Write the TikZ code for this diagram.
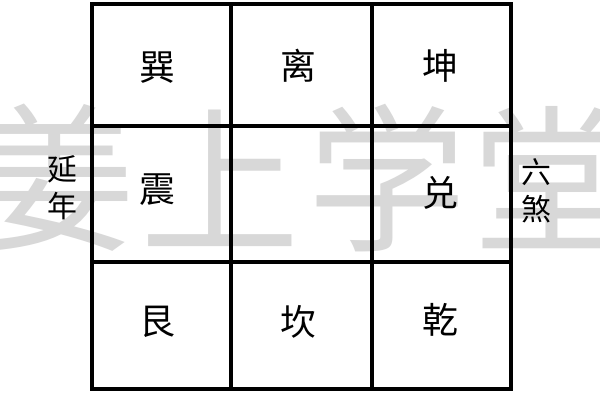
\documentclass[tikz,border=0pt]{standalone}
\usepackage{fontspec}
\newfontfamily\cjk{Noto Sans CJK SC}
\definecolor{wm}{RGB}{216,216,216}
\begin{document}
\begin{tikzpicture}[x=1bp,y=-1bp,
  cell/.style={draw=black,line width=4.5bp,inner sep=0pt,rectangle},
  gua/.style={font=\cjk\fontsize{36}{36}\selectfont,inner sep=0pt},
  side/.style={font=\cjk\fontsize{30}{37}\selectfont,inner sep=0pt,align=center},
  wmark/.style={font=\cjk\fontsize{160}{160}\selectfont,text=wm,inner sep=0pt}]
\useasboundingbox[fill=white] (0,0) rectangle (600,400);
% watermark
\node[wmark] (w1) at (55,178) {姜};
\node[wmark] (w2) at (220,178) {上};
\node[wmark] (w3) at (387,178) {学};
\node[wmark] (w4) at (552,178) {堂};
% grid cells
\node[cell,minimum width=139bp,minimum height=122bp] (c11) at (161.5,65) {};
\node[cell,minimum width=141bp,minimum height=122bp] (c12) at (301.5,65) {};
\node[cell,minimum width=139bp,minimum height=122bp] (c13) at (441.5,65) {};
\node[cell,minimum width=139bp,minimum height=136bp] (c21) at (161.5,194) {};
\node[cell,minimum width=141bp,minimum height=136bp] (c22) at (301.5,194) {};
\node[cell,minimum width=139bp,minimum height=136bp] (c23) at (441.5,194) {};
\node[cell,minimum width=139bp,minimum height=127bp] (c31) at (161.5,325.5) {};
\node[cell,minimum width=141bp,minimum height=127bp] (c32) at (301.5,325.5) {};
\node[cell,minimum width=139bp,minimum height=127bp] (c33) at (441.5,325.5) {};
% trigram names
\node[gua] (xun) at (157,68) {巽};
\node[gua] (li) at (298,66) {离};
\node[gua] (kun) at (440,66) {坤};
\node[gua] (zhen) at (157,190) {震};
\node[gua] (dui) at (440,193) {兑};
\node[gua] (gen) at (157,322) {艮};
\node[gua] (kan) at (298,322) {坎};
\node[gua] (qian) at (440,320) {乾};
% side labels
\node[side] (yan) at (62,188) {延\\年};
\node[side] (liu) at (536,191) {六\\煞};
\end{tikzpicture}
\end{document}
